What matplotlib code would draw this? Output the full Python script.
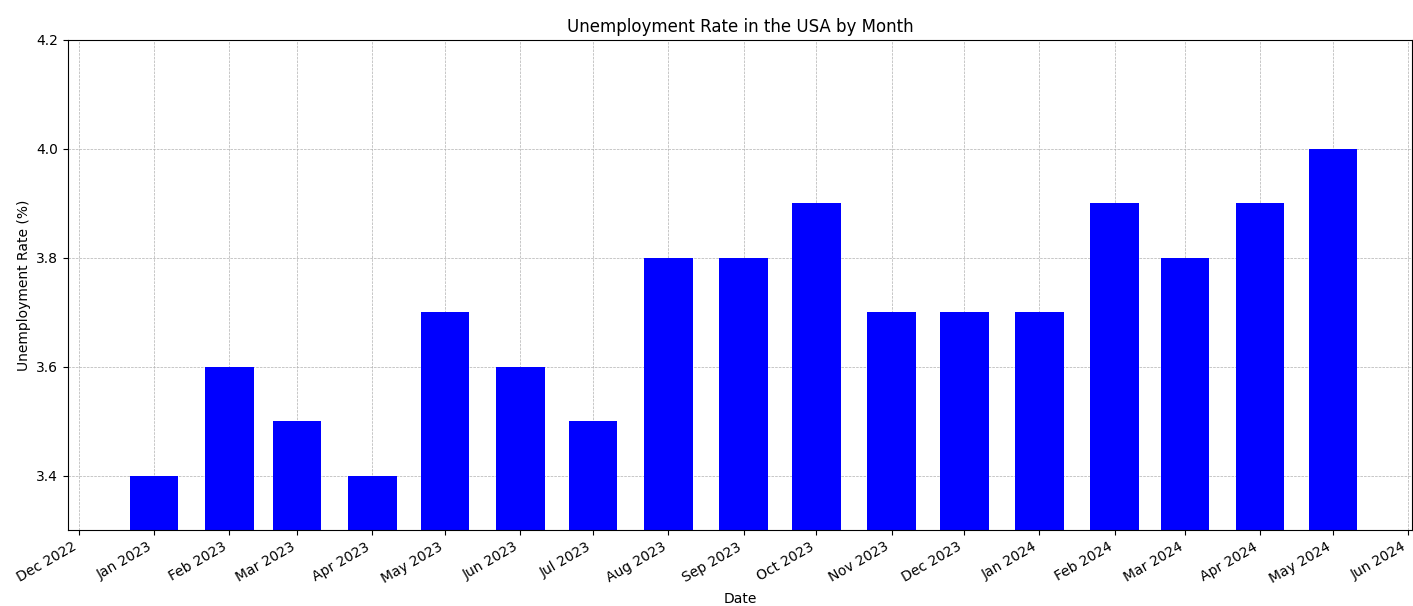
import matplotlib
matplotlib.use("Agg")
import matplotlib.pyplot as plt
import matplotlib.dates as mdates
import pandas as pd

months = ["2023-01", "2023-02", "2023-03", "2023-04", "2023-05", "2023-06",
          "2023-07", "2023-08", "2023-09", "2023-10", "2023-11", "2023-12",
          "2024-01", "2024-02", "2024-03", "2024-04", "2024-05"]
rates = [3.4, 3.6, 3.5, 3.4, 3.7, 3.6, 3.5, 3.8, 3.8, 3.9, 3.7, 3.7,
         3.7, 3.9, 3.8, 3.9, 4.0]

dates = pd.to_datetime(months)

fig = plt.figure(figsize=(14.13, 6.06), dpi=100)
ax = fig.add_axes([68/1413, 1 - 530/606, (1412-68)/1413, (530-40)/606])
ax.bar(dates, rates, width=20, color="blue")
ax.set_ylim(3.3, 4.2)
ax.set_yticks([3.4, 3.6, 3.8, 4.0, 4.2])
ax.set_xlim(pd.Timestamp("2022-11-26 12:00"), pd.Timestamp("2024-06-02 14:00"))
ax.xaxis.set_major_locator(mdates.MonthLocator())
ax.xaxis.set_major_formatter(mdates.DateFormatter("%b %Y"))
for lbl in ax.get_xticklabels():
    lbl.set_rotation(30)
    lbl.set_ha("right")
ax.grid(True, linestyle="--", linewidth=0.5)
ax.set_axisbelow(True)
ax.set_title("Unemployment Rate in the USA by Month")
ax.set_xlabel("Date")
ax.set_ylabel("Unemployment Rate (%)")
fig.savefig("out.png", dpi=100)
